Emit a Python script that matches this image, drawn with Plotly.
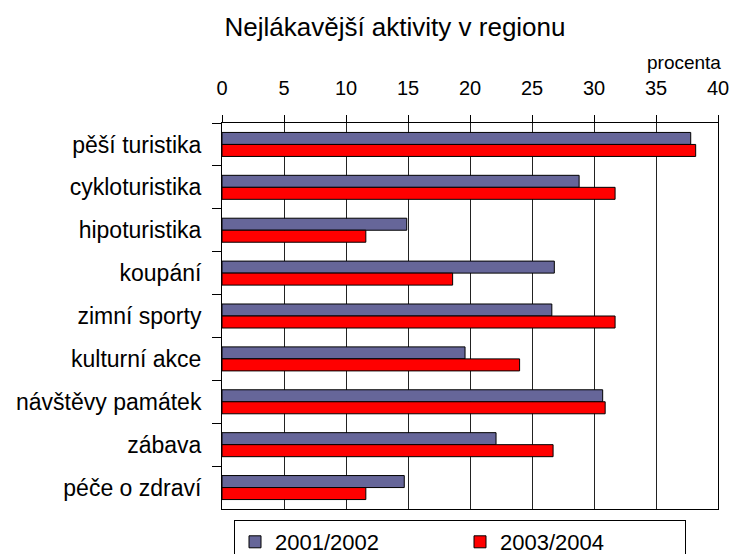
import plotly.graph_objects as go

activities = [
    "pěší turistika",
    "cykloturistika",
    "hipoturistika",
    "koupání",
    "zimní sporty",
    "kulturní akce",
    "návštěvy památek",
    "zábava",
    "péče o zdraví",
]
season_2001_2002 = [37.8, 28.8, 14.9, 26.8, 26.6, 19.6, 30.7, 22.1, 14.7]
season_2003_2004 = [38.2, 31.7, 11.6, 18.6, 31.7, 24.0, 30.9, 26.7, 11.6]
x_ticks = [0, 5, 10, 15, 20, 25, 30, 35, 40]

FONT = "Liberation Sans, Arial, sans-serif"

fig = go.Figure()
fig.add_trace(
    go.Bar(
        y=activities,
        x=season_2001_2002,
        orientation="h",
        name="2001/2002",
        marker=dict(color="#666699", line=dict(color="#000000", width=1)),
    )
)
fig.add_trace(
    go.Bar(
        y=activities,
        x=season_2003_2004,
        orientation="h",
        name="2003/2004",
        marker=dict(color="#FF0000", line=dict(color="#000000", width=1)),
    )
)

fig.update_layout(
    width=731,
    height=554,
    margin=dict(l=222, r=13, t=123, b=45, autoexpand=False),
    paper_bgcolor="white",
    plot_bgcolor="white",
    font=dict(family=FONT, color="#000000", size=20),
    barmode="group",
    bargap=0.44,
    bargroupgap=0,
    title=dict(
        text="Nejlákavější aktivity v regionu",
        font=dict(size=26, family=FONT, color="#000000"),
        x=395 / 731,
        xanchor="center",
        y=1 - 27 / 554,
        yanchor="middle",
    ),
    legend=dict(
        orientation="h",
        x=12 / 496,
        xanchor="left",
        y=-11 / 386,
        yanchor="top",
        bordercolor="#000000",
        borderwidth=1,
        entrywidth=180,
        font=dict(size=22, family=FONT),
        itemclick=False,
    ),
    showlegend=True,
    annotations=[
        dict(
            text="procenta",
            xref="paper",
            yref="paper",
            x=1 + 5 / 496,
            xanchor="right",
            y=1 + 60 / 386,
            yanchor="middle",
            showarrow=False,
            font=dict(size=19, family=FONT),
        )
    ],
)

fig.update_xaxes(
    side="top",
    range=[0, 40],
    tickvals=x_ticks,
    ticktext=[str(t) for t in x_ticks],
    showgrid=True,
    gridcolor="#222222",
    gridwidth=1,
    showline=True,
    linecolor="#000000",
    linewidth=1,
    mirror=True,
    ticks="outside",
    ticklen=7,
    tickcolor="#000000",
    ticklabelstandoff=12,
    tickfont=dict(size=20),
    zeroline=False,
    fixedrange=True,
)
fig.update_yaxes(
    autorange="reversed",
    showline=True,
    linecolor="#000000",
    linewidth=1,
    mirror=True,
    ticks="outside",
    tickson="boundaries",
    ticklen=9,
    tickcolor="#000000",
    tickfont=dict(size=23),
    ticklabelstandoff=15,
    showgrid=False,
    fixedrange=True,
)

# the page body has an 8px default margin; drop it so the figure fills the window
fig.write_html(
    "out.html",
    config={"displayModeBar": False},
    post_script="document.body.style.margin='0';",
)
